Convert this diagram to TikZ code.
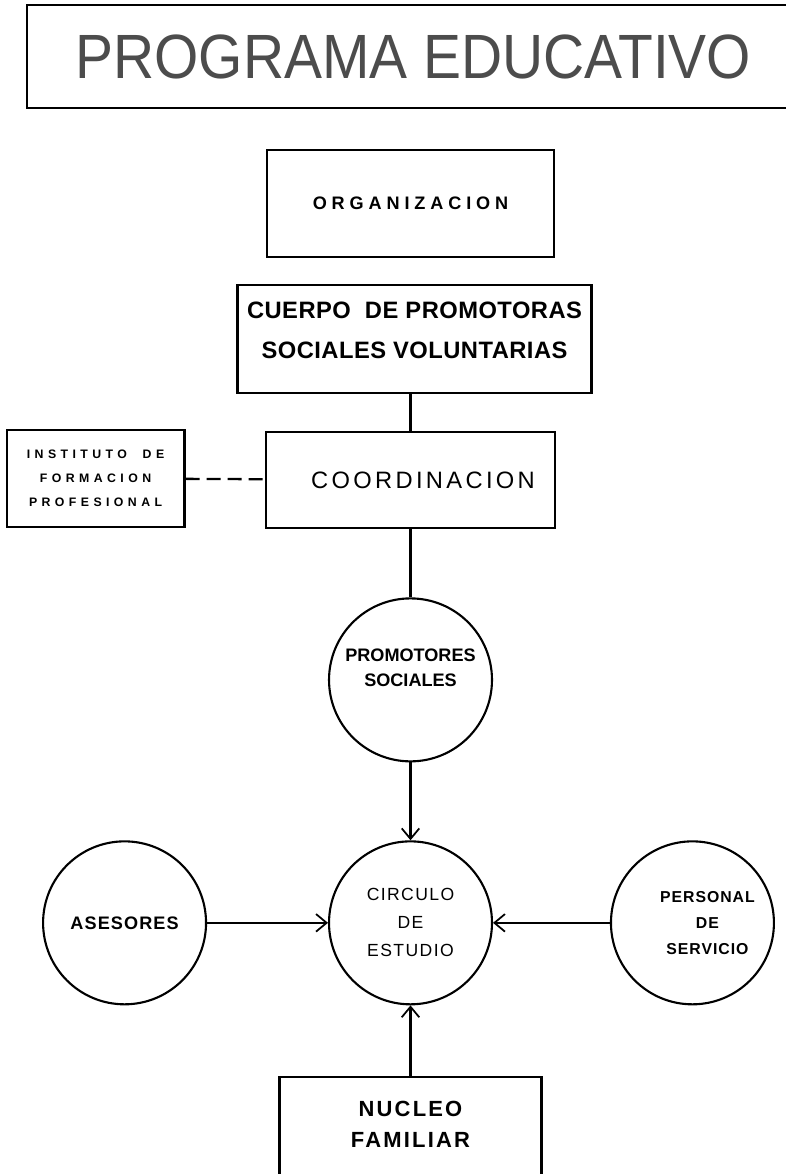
\documentclass[tikz,border=0pt]{standalone}
\usepackage{fontspec}
\setmainfont{Liberation Sans}
\newfontfamily\titlefont[FakeStretch=0.91]{Liberation Sans}
\usetikzlibrary{arrows.meta}

\begin{document}
\begin{tikzpicture}[x=0.02cm,y=-0.02cm,
    box/.style={draw,line width=1.2pt,rectangle,align=center,inner sep=0pt},
    ring/.style={draw,line width=1.2pt,circle,minimum size=3.26cm,inner sep=0pt,align=center},
    link/.style={line width=1.3pt},
    arr/.style={line width=1.3pt,-{Straight Barb[length=6pt,width=10pt,line width=1pt]}}]
      \useasboundingbox (0,0) rectangle (785,1174);

      \node[minimum width=16.2cm,minimum height=2.06cm,inner sep=0pt,text=black!70,
        font={\titlefont\fontsize{35.6}{40}\selectfont}] (title) at (432,56.5) {\hspace*{-0.75cm}PROGRAMA EDUCATIVO};
      \draw[line width=1.2pt] (title.north east) -- (title.north west) -- (title.south west) -- (title.south east);
      \node[box,minimum width=5.74cm,minimum height=2.14cm,below of=title,yshift=-1.94cm,xshift=-0.43cm,
        font={\fontsize{10.3}{12}\selectfont\bfseries\addfontfeatures{LetterSpace=27}}] (org) {ORGANIZACION};
      \node[box,minimum width=7.08cm,minimum height=2.16cm,below of=org,yshift=-1.71cm,xshift=0.08cm,text depth=0.36cm,
        font={\fontsize{13.5}{22.7}\selectfont\bfseries\addfontfeatures{LetterSpace=2}}] (cuerpo) {CUERPO~~DE PROMOTORAS\\SOCIALES VOLUNTARIAS};
      \node[box,minimum width=5.78cm,minimum height=1.92cm,below of=cuerpo,yshift=-1.82cm,xshift=-0.08cm,
        font={\fontsize{13.5}{16}\selectfont\addfontfeatures{LetterSpace=14}}] (coord) {\hspace*{0.5cm}COORDINACION};
      \node[box,minimum width=3.56cm,minimum height=1.94cm,left of=coord,xshift=-5.3cm,yshift=0.03cm,
        font={\fontsize{7}{13.6}\selectfont\bfseries\addfontfeatures{LetterSpace=36}}] (inst) {INSTITUTO~~DE\\FORMACION\\PROFESIONAL};

      \node[ring,below of=coord,yshift=-3cm,text depth=0.48cm,
        font={\fontsize{10.3}{14.2}\selectfont\bfseries}] (promo) {PROMOTORES\\SOCIALES};
      \node[ring,below of=promo,yshift=-3.86cm,
        font={\fontsize{10}{15.9}\selectfont\addfontfeatures{LetterSpace=8}}] (circulo) {CIRCULO\\DE\\ESTUDIO};
      \node[ring,left of=circulo,xshift=-4.72cm,
        font={\fontsize{10.3}{12}\selectfont\bfseries\addfontfeatures{LetterSpace=6}}] (ases) {ASESORES};
      \node[ring,right of=circulo,xshift=4.64cm,
        font={\fontsize{9}{14.7}\selectfont\bfseries\addfontfeatures{LetterSpace=6}}] (pers) {\hspace*{0.6cm}PERSONAL\\\hspace*{0.6cm}DE\\\hspace*{0.6cm}SERVICIO};
      \node[box,minimum width=5.24cm,minimum height=2.2cm,below of=circulo,yshift=-3.18cm,text depth=0.3cm,
        font={\fontsize{12.5}{18.1}\selectfont\bfseries\addfontfeatures{LetterSpace=10}}] (nucleo) {NUCLEO\\FAMILIAR};

      \draw[link] (coord.north |- cuerpo.south) -- (coord.north);
      \draw[link,dash pattern=on 0.28cm off 0.14cm] (inst) -- (coord);
      \draw[link] (coord) -- (promo);
      \draw[arr] (promo) -- (circulo);
      \draw[arr] (ases) -- (circulo);
      \draw[arr] (pers) -- (circulo);
      \draw[arr] (nucleo) -- (circulo);
    \end{tikzpicture}
\end{document}
